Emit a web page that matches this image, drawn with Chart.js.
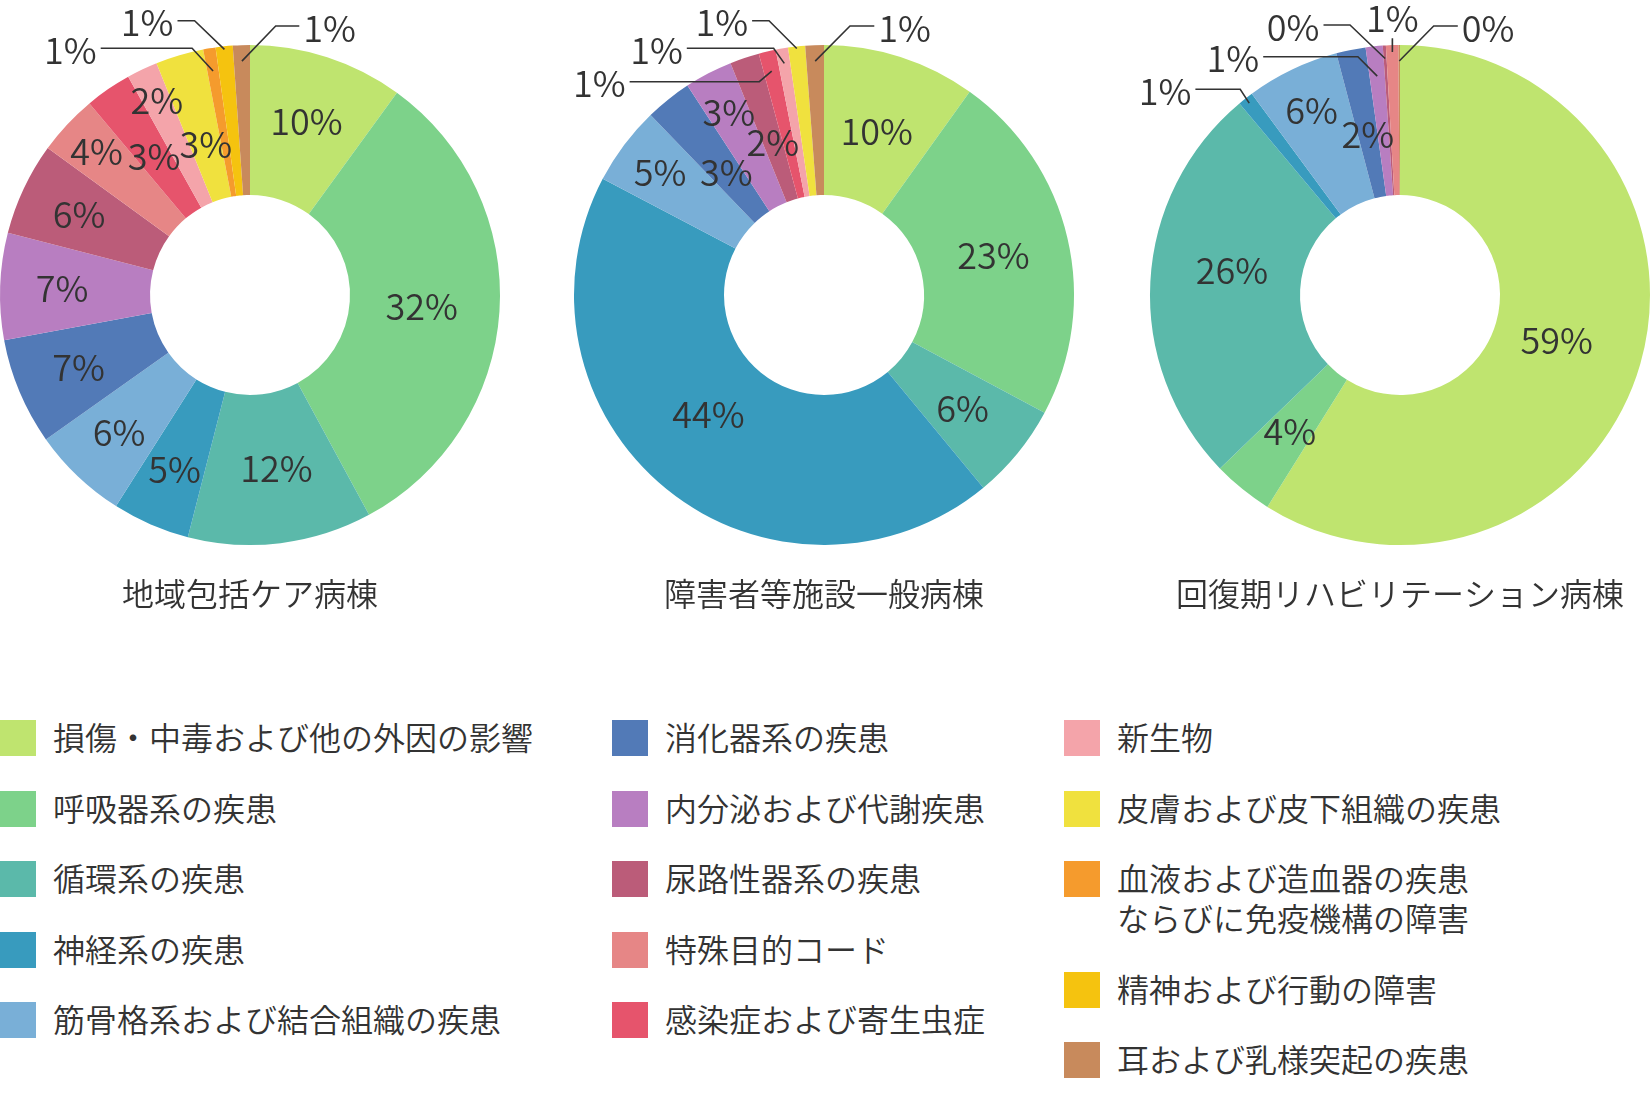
<!DOCTYPE html>
<html lang="ja">
<head>
<meta charset="utf-8">
<script src="https://cdn.jsdelivr.net/npm/chart.js@4.4.1/dist/chart.umd.min.js"></script>
<style>
html,body{margin:0;padding:0;background:#fff;width:1650px;height:1110px;overflow:hidden;}
#stage{position:relative;width:1650px;height:1110px;overflow:hidden;font-family:"Noto Sans CJK JP","Noto Sans",sans-serif;color:#333;}
canvas.donut{position:absolute;top:-5px;}
.lg-box{position:absolute;width:36px;height:36px;}
.lg-text{position:absolute;font-size:32px;line-height:40px;white-space:nowrap;color:#333;font-weight:350;}
</style>
</head>
<body>
<div id="stage">
  <canvas id="c1" class="donut" width="600" height="640" style="left:-50px"></canvas>
  <canvas id="c2" class="donut" width="600" height="640" style="left:524px"></canvas>
  <canvas id="c3" class="donut" width="600" height="640" style="left:1100px"></canvas>
  <div id="legend"></div>
</div>
<script>
// ---------- data ----------
const categories = [
  '損傷・中毒および他の外因の影響',
  '呼吸器系の疾患',
  '循環系の疾患',
  '神経系の疾患',
  '筋骨格系および結合組織の疾患',
  '消化器系の疾患',
  '内分泌および代謝疾患',
  '尿路性器系の疾患',
  '特殊目的コード',
  '感染症および寄生虫症',
  '新生物',
  '皮膚および皮下組織の疾患',
  ['血液および造血器の疾患', 'ならびに免疫機構の障害'],
  '精神および行動の障害',
  '耳および乳様突起の疾患'
];
const colors = [
  '#bfe46f', '#7dd28a', '#5bb9aa', '#389bbe', '#79afd7',
  '#527ab7', '#b87ec1', '#bb5c79', '#e68686', '#e6546c',
  '#f4a4aa', '#f0e13e', '#f59b2d', '#f5c30f', '#c88a5c'
];
const wardTitles = ['地域包括ケア病棟', '障害者等施設一般病棟', '回復期リハビリテーション病棟'];

// share (%) of each category, clockwise from 12 o'clock
const communityCare   = [10.0, 32.1, 11.9, 5.0, 6.2, 6.9, 6.9, 6.0, 3.9, 3.0, 2.0, 3.1, 0.8, 1.1, 1.1];
const disabilityWard  = [9.9, 22.9, 6.2, 43.7, 5.1, 3.0, 3.1, 1.9, 0, 1.1, 0.8, 1.1, 0, 0, 1.2];
const rehabilitation  = [58.9, 3.9, 26.1, 1.0, 6.0, 1.9, 1.1, 0.2, 0.8, 0, 0, 0, 0, 0, 0.1];

// ---------- label placement (styling, not data) ----------
const labelRadii = [
  [183, 172, 175, 190, 190, 186, 188, 189, 210, 169, 216, 157, 0, 0, 0],
  [172, 174, 179, 166, 205, 157, 206, 161, 0, 0, 0, 0, 0, 0, 0],
  [163, 175, 170, 0, 205, 164, 0, 0, 0, 0, 0, 0, 0, 0, 0]
];
// small angular nudges (degrees) for in-ring labels
const labelNudge = [
  {2: -1.7},
  {3: 5},
  {2: 5.4}
];
const callouts = [
  [
    {i: 14, r: 234, ex: 25.7, ey: -269, hx: 49.3},
    {i: 13, r: 247, ex: -55.4, ey: -274.3, hx: -72.5},
    {i: 12, r: 227, ex: -57.9, ey: -246.7, hx: -149.3}
  ],
  [
    {i: 14, r: 234, ex: 26, ey: -269, hx: 50.3},
    {i: 11, r: 248, ex: -55, ey: -274.3, hx: -71.9},
    {i: 10, r: 235, ex: -50.4, ey: -246.7, hx: -137.2},
    {i: 9, r: 230, ex: -64.7, ey: -213.3, hx: -194.4}
  ],
  [
    {i: 14, r: 234, ex: 33.7, ey: -269, hx: 57.8},
    {i: 8, r: 243, ex: -7.6, ey: -256.7, hx: -7.6, top: true},
    {i: 7, r: 237, ex: -50, ey: -270, hx: -76.5},
    {i: 6, r: 220, ex: -42.1, ey: -238.3, hx: -136.8},
    {i: 3, r: 244, ex: -159.8, ey: -205.7, hx: -204.6}
  ]
];

const FAMILY = '"Noto Sans CJK JP", "Noto Sans", sans-serif';
const INK = '#333333';

const sliceLabels = {
  id: 'sliceLabels',
  afterDatasetsDraw(chart, args, opts) {
    const ctx = chart.ctx;
    const meta = chart.getDatasetMeta(0);
    const data = chart.data.datasets[0].data;
    const total = data.reduce((a, b) => a + b, 0);
    const co = {};
    (opts.callouts || []).forEach(c => co[c.i] = c);
    ctx.save();
    ctx.font = '350 36px ' + FAMILY;
    ctx.fillStyle = INK;
    ctx.strokeStyle = INK;
    ctx.lineWidth = 1.6;
    meta.data.forEach((arc, i) => {
      const v = data[i];
      if (!v) return;
      const p = arc.getProps(['x', 'y', 'startAngle', 'endAngle'], true);
      let mid = (p.startAngle + p.endAngle) / 2;
      const txt = Math.round(v / total * 100) + '%';
      const c = co[i];
      if (c) {
        const sx = p.x + c.r * Math.cos(mid), sy = p.y + c.r * Math.sin(mid);
        const exx = p.x + c.ex, eyy = p.y + c.ey, hxx = p.x + c.hx;
        ctx.beginPath();
        ctx.moveTo(sx, sy);
        ctx.lineTo(exx, eyy);
        if (!c.top) ctx.lineTo(hxx, eyy);
        ctx.stroke();
        ctx.textBaseline = 'middle';
        if (c.top) {
          ctx.textAlign = 'center';
          ctx.fillText(txt, exx, eyy - 20);
        } else if (c.hx > c.ex) {
          ctx.textAlign = 'left';
          ctx.fillText(txt, hxx + 4, eyy + 2);
        } else {
          ctx.textAlign = 'right';
          ctx.fillText(txt, hxx - 4, eyy + 2);
        }
      } else {
        const r = opts.radii[i] || 175;
        mid += ((opts.nudge && opts.nudge[i]) || 0) * Math.PI / 180;
        ctx.textAlign = 'center';
        ctx.textBaseline = 'middle';
        ctx.fillText(txt, p.x + r * Math.cos(mid), p.y + r * Math.sin(mid));
      }
    });
    ctx.restore();
  }
};

function makeChart(id, values, k) {
  return new Chart(document.getElementById(id), {
    type: 'doughnut',
    data: {
      labels: categories,
      datasets: [{data: values, backgroundColor: colors, borderWidth: 0, hoverOffset: 0}]
    },
    options: {
      responsive: false,
      animation: false,
      cutout: '40%',
      layout: {padding: {top: 50, left: 50, right: 50, bottom: 21.8}},
      plugins: {
        legend: {display: false},
        tooltip: {enabled: false},
        title: {
          display: true,
          position: 'bottom',
          text: wardTitles[k],
          color: INK,
          font: {family: FAMILY, size: 32, weight: 350, lineHeight: 1.2},
          padding: {top: 29.8, bottom: 0}
        },
        sliceLabels: {radii: labelRadii[k], nudge: labelNudge[k], callouts: callouts[k]}
      }
    },
    plugins: [sliceLabels]
  });
}

function buildLegend() {
  const host = document.getElementById('legend');
  const colX = [0, 612, 1064];
  const columns = [[0, 1, 2, 3, 4], [5, 6, 7, 8, 9], [10, 11, 12, 13, 14]];
  columns.forEach((col, ci) => {
    let top = 720;
    col.forEach(idx => {
      const box = document.createElement('div');
      box.className = 'lg-box';
      box.style.left = colX[ci] + 'px';
      box.style.top = top + 'px';
      box.style.background = colors[idx];
      host.appendChild(box);
      const lines = Array.isArray(categories[idx]) ? categories[idx] : [categories[idx]];
      const t = document.createElement('div');
      t.className = 'lg-text';
      t.style.left = (colX[ci] + 53) + 'px';
      t.style.top = (top - 4) + 'px';
      lines.forEach((ln, li) => {
        if (li) t.appendChild(document.createElement('br'));
        t.appendChild(document.createTextNode(ln));
      });
      host.appendChild(t);
      top += 70.6 + 40 * (lines.length - 1);
    });
  });
}

function start() {
  Chart.defaults.font.family = FAMILY;
  makeChart('c1', communityCare, 0);
  makeChart('c2', disabilityWard, 1);
  makeChart('c3', rehabilitation, 2);
}

buildLegend();
const fontReady = document.fonts && document.fonts.load
  ? Promise.race([
      Promise.all([document.fonts.load('350 36px "Noto Sans CJK JP"'), document.fonts.load('350 32px "Noto Sans CJK JP"', '病棟')]),
      new Promise(r => setTimeout(r, 1500))
    ]).catch(() => {})
  : Promise.resolve();
fontReady.then(start);
</script>
</body>
</html>
